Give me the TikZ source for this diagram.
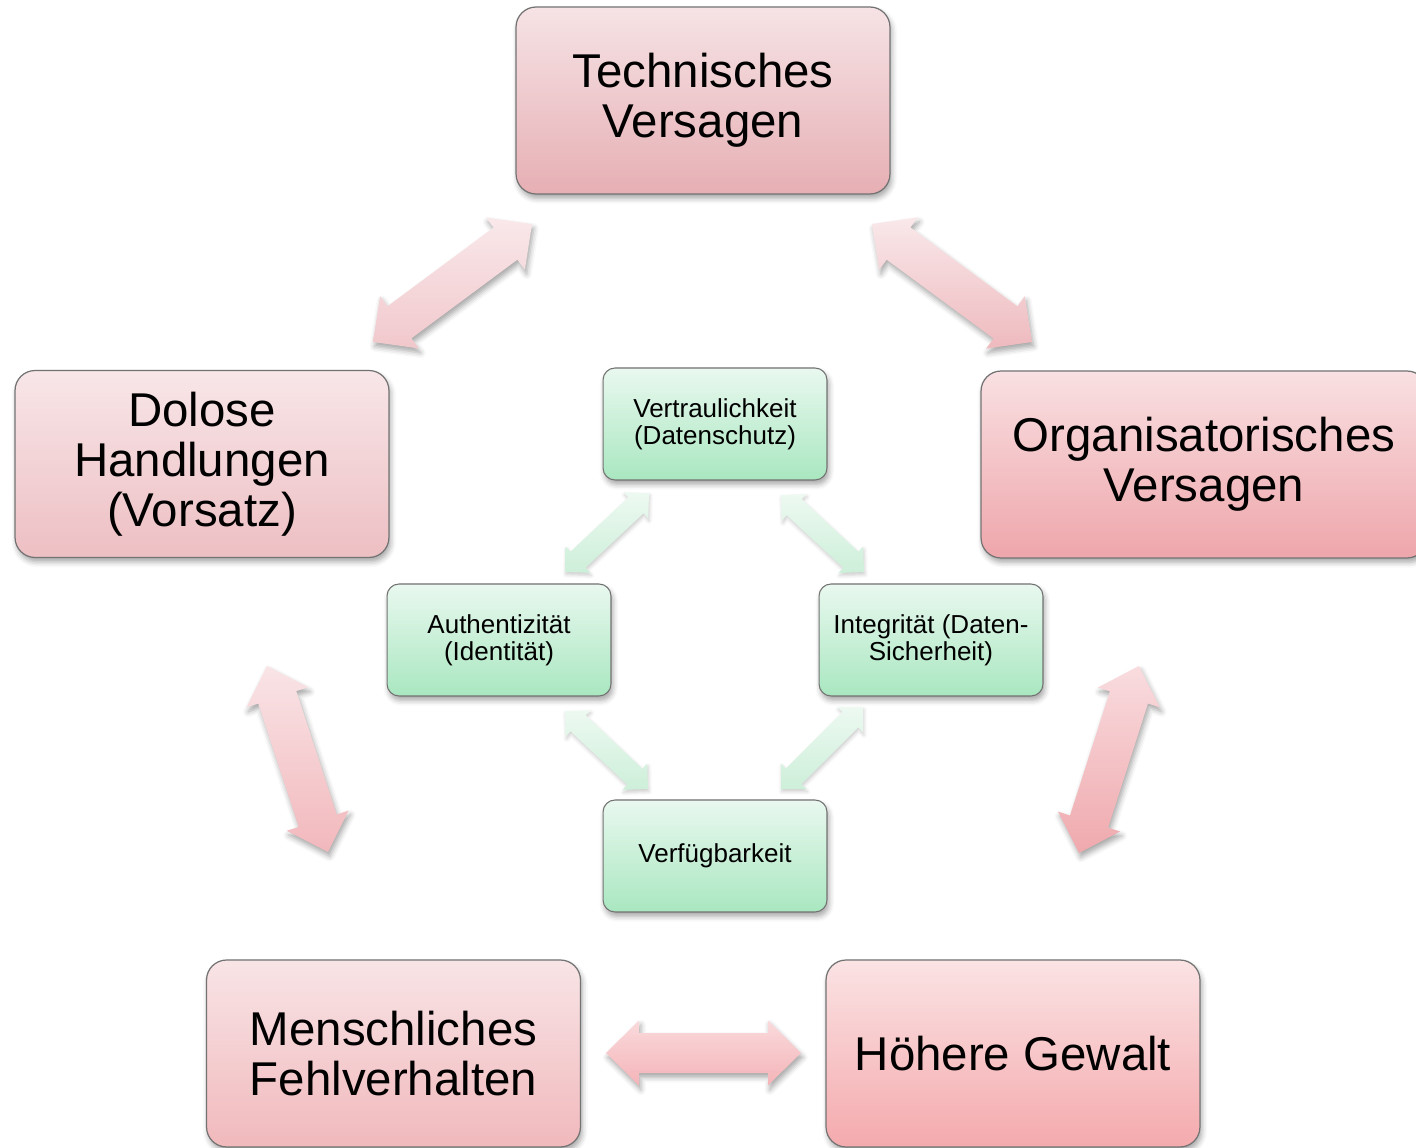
\documentclass[tikz,border=0pt]{standalone}
\usepackage{fontspec}
\setmainfont{Liberation Sans}
\usetikzlibrary{calc,shadows.blur}

% double-headed block arrow between two named points
% #1 style, #2 start, #3 end, #4 shaft half width, #5 head half width, #6 head length
\newcommand{\blockarrow}[6]{%
  \coordinate (ha) at ($(#2)!#6!(#3)$);
  \coordinate (hb) at ($(#3)!#6!(#2)$);
  \path[#1] (#2)
    -- ($(ha)!#5!90:(#3)$) -- ($(ha)!#4!90:(#3)$)
    -- ($(hb)!#4!-90:(#2)$) -- ($(hb)!#5!-90:(#2)$)
    -- (#3)
    -- ($(hb)!#5!90:(#2)$) -- ($(hb)!#4!90:(#2)$)
    -- ($(ha)!#4!-90:(#3)$) -- ($(ha)!#5!-90:(#3)$)
    -- cycle;
}

\tikzset{
  softshadow/.style={blur shadow={shadow xshift=1pt, shadow yshift=-2.5pt,
      shadow blur radius=3pt, shadow opacity=35}},
  redbox/.style={draw=black!55, line width=0.7pt, rounded corners=0.4cm,
      minimum width=7.48cm, minimum height=3.74cm, align=center,
      font=\fontsize{27}{28.4}\selectfont, softshadow},
  greenbox/.style={draw=black!55, line width=0.6pt, rounded corners=0.24cm,
      minimum width=4.48cm, minimum height=2.24cm, align=center,
      top color=greentop, bottom color=greenbot,
      font=\fontsize{14.8}{15.3}\selectfont, softshadow},
  redarrow/.style={softshadow},
  greenarrow/.style={top color=garrtop, bottom color=garrbot,
      blur shadow={shadow xshift=0.5pt, shadow yshift=-1.5pt,
      shadow blur radius=2pt, shadow opacity=20}},
}

\definecolor{greentop}{HTML}{E9F8EF}
\definecolor{greenbot}{HTML}{A9E7C0}
\definecolor{garrtop}{HTML}{EDF9F1}
\definecolor{garrbot}{HTML}{CDEFD9}

\begin{document}
\begin{tikzpicture}[x=0.02cm, y=-0.02cm]
  \useasboundingbox (0,0) rectangle (1416,1148);
  \clip (0,0) rectangle (1416,1148);

  % threat boxes
  \node[redbox, top color={rgb,255:red,246;green,227;blue,229}, bottom color={rgb,255:red,230;green,175;blue,180}]
    (tech) at (703,100.5) {Technisches\\Versagen};
  \node[redbox, top color={rgb,255:red,248;green,230;blue,232}, bottom color={rgb,255:red,237;green,191;blue,195}]
    (dol) at (202,464) {Dolose\\Handlungen\\(Vorsatz)};
  \node[redbox, minimum width=8.92cm, top color={rgb,255:red,249;green,224;blue,226}, bottom color={rgb,255:red,238;green,166;blue,171}]
    (org) at (1204,464.5) {Organisatorisches\\Versagen};
  \node[redbox, top color={rgb,255:red,248;green,228;blue,230}, bottom color={rgb,255:red,241;green,185;blue,188}]
    (mensch) at (393.5,1053.5) {Menschliches\\Fehlverhalten};
  \node[redbox, top color={rgb,255:red,251;green,227;blue,228}, bottom color={rgb,255:red,244;green,170;blue,173}]
    (gewalt) at (1013,1053.5) {Höhere Gewalt};

  % protection goals
  \node[greenbox] (vert) at (715,424) {Vertraulichkeit\\(Datenschutz)};
  \node[greenbox] (auth) at (499,640) {Authentizität\\(Identität)};
  \node[greenbox] (integ) at (931,640) {Integrität (Daten-\\Sicherheit)};
  \node[greenbox] (verf) at (715,856) {Verfügbarkeit};

  % arrow end points
  \coordinate (tl1) at (373,342);   \coordinate (tl2) at (532,224);
  \coordinate (tr1) at (872,224);   \coordinate (tr2) at (1032,342);
  \coordinate (l1)  at (267,666);   \coordinate (l2)  at (328,852);
  \coordinate (r1)  at (1139,666);  \coordinate (r2)  at (1079,853);
  \coordinate (b1)  at (606,1053);  \coordinate (b2)  at (801,1053);

  \coordinate (g1a) at (565,572);   \coordinate (g1b) at (649,493);
  \coordinate (g2a) at (781,495);   \coordinate (g2b) at (864,572);
  \coordinate (g3a) at (565,711);   \coordinate (g3b) at (648,789);
  \coordinate (g4a) at (863,707);   \coordinate (g4b) at (781,789);

  % red arrows between the threats
  \blockarrow{redarrow, top color={rgb,255:red,249;green,232;blue,234}, bottom color={rgb,255:red,241;green,200;blue,204}}{tl1}{tl2}{0.4cm}{0.65cm}{0.66cm}
  \blockarrow{redarrow, top color={rgb,255:red,249;green,232;blue,234}, bottom color={rgb,255:red,238;green,186;blue,190}}{tr1}{tr2}{0.4cm}{0.65cm}{0.66cm}
  \blockarrow{redarrow, top color={rgb,255:red,249;green,228;blue,230}, bottom color={rgb,255:red,242;green,184;blue,188}}{l1}{l2}{0.4cm}{0.65cm}{0.66cm}
  \blockarrow{redarrow, top color={rgb,255:red,249;green,220;blue,223}, bottom color={rgb,255:red,239;green,169;blue,173}}{r1}{r2}{0.4cm}{0.65cm}{0.66cm}
  \blockarrow{redarrow, top color={rgb,255:red,250;green,218;blue,220}, bottom color={rgb,255:red,244;green,180;blue,184}}{b1}{b2}{0.4cm}{0.65cm}{0.66cm}

  % green arrows between the protection goals
  \blockarrow{greenarrow}{g1a}{g1b}{0.22cm}{0.36cm}{0.36cm}
  \blockarrow{greenarrow}{g2a}{g2b}{0.22cm}{0.36cm}{0.36cm}
  \blockarrow{greenarrow}{g3a}{g3b}{0.22cm}{0.36cm}{0.36cm}
  \blockarrow{greenarrow}{g4a}{g4b}{0.22cm}{0.36cm}{0.36cm}
\end{tikzpicture}
\end{document}
